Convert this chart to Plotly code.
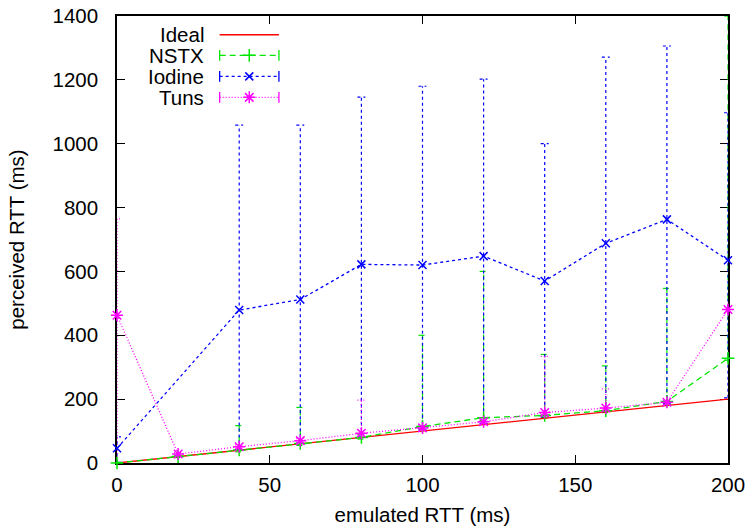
import plotly.graph_objects as go

# ---------------- data ----------------
ideal_x = [0, 200]
ideal_y = [0, 200]

rtt = [0, 20, 40, 60, 80, 100, 120, 140, 160, 180, 200]

nstx = [0, 20, 41, 61, 80, 114, 142, 149, 164, 193, 328]
nstx_hi = [3, 24, 117, 174, 90, 400, 600, 340, 304, 547, 1400]
nstx_lo = [0, 17, 35, 55, 75, 106, 133, 143, 158, 187, 322]

iodine_x = [0, 40, 60, 80, 100, 120, 140, 160, 180, 200]
iodine = [46, 479, 512, 622, 620, 648, 570, 688, 763, 635]
iodine_hi = [82, 1058, 1058, 1146, 1180, 1202, 1000, 1271, 1306, 1097]
iodine_lo = [2, 42, 62, 82, 104, 124, 144, 163, 185, 204]

tuns = [463, 28, 51, 70, 93, 110, 129, 158, 172, 190, 481]
tuns_hi = [765, 33, 57, 76, 197, 116, 135, 334, 232, 196, 490]
tuns_lo = [0, 24, 46, 65, 88, 105, 124, 152, 166, 184, 470]

names = ["Ideal", "NSTX", "Iodine", "Tuns"]

# ---------------- styles ----------------
FONT = "Liberation Sans, Arial, Helvetica, sans-serif"
FS = 20.5
RED = "#ff0000"
GREEN = "#00e600"
BLUE = "#0000ff"
MAG = "#ff00ff"
CAP = 1.3  # half cap width in data units


def err_segments(xs, lo, hi):
    sx, sy = [], []
    for x, l, h in zip(xs, lo, hi):
        sx += [x, x, None, x - CAP, x + CAP, None, x - CAP, x + CAP, None]
        sy += [l, h, None, l, l, None, h, h, None]
    return sx, sy


fig = go.Figure()

series = [
    ("NSTX", rtt, nstx, nstx_lo, nstx_hi, GREEN, "6px,4px", "cross-thin-open", 9),
    ("Iodine", iodine_x, iodine, iodine_lo, iodine_hi, BLUE, "3px,3px", "x-thin-open", 8),
    ("Tuns", rtt, tuns, tuns_lo, tuns_hi, MAG, "1px,2px", "asterisk-open", 10),
]

# error bars first
for name, xs, ys, lo, hi, col, dash, sym, msz in series:
    ex, ey = err_segments(xs, lo, hi)
    fig.add_trace(go.Scatter(x=ex, y=ey, mode="lines", showlegend=False,
                             line=dict(color=col, width=1.2, dash=dash),
                             hoverinfo="skip", cliponaxis=False))

fig.add_trace(go.Scatter(x=ideal_x, y=ideal_y, mode="lines", name="Ideal",
                         line=dict(color=RED, width=1.3), showlegend=False))

for name, xs, ys, lo, hi, col, dash, sym, msz in series:
    fig.add_trace(go.Scatter(x=xs, y=ys, mode="lines+markers", name=name,
                             showlegend=False, cliponaxis=False,
                             line=dict(color=col, width=1.3, dash=dash),
                             marker=dict(symbol=sym, size=msz, color=col,
                                         line=dict(color=col, width=1.5))))

# ---------------- custom gnuplot-like key (text left of sample) ----------------
key_rows = [0.958, 0.912, 0.865, 0.818]
key_text_x = 0.146
key_x0, key_x1 = 0.168, 0.265
styles = [(RED, "solid", None, 0, False),
          (GREEN, "6px,4px", "cross-thin-open", 9, True),
          (BLUE, "3px,3px", "x-thin-open", 8, True),
          (MAG, "1px,2px", "asterisk-open", 10, True)]
for name, yy, (col, dash, sym, msz, caps) in zip(names, key_rows, styles):
    fig.add_annotation(text=name, xref="paper", yref="paper", x=key_text_x, y=yy,
                       xanchor="right", yanchor="middle", showarrow=False,
                       font=dict(family=FONT, size=FS, color="black"))
    fig.add_trace(go.Scatter(x=[key_x0, key_x1], y=[yy, yy], xaxis="x2", yaxis="y2",
                             mode="lines", line=dict(color=col, width=1.3, dash=dash),
                             showlegend=False, hoverinfo="skip"))
    if caps:
        h = 0.012
        fig.add_trace(go.Scatter(x=[key_x0, key_x0, None, key_x1, key_x1],
                                 y=[yy - h, yy + h, None, yy - h, yy + h],
                                 xaxis="x2", yaxis="y2", mode="lines",
                                 line=dict(color=col, width=1.3),
                                 showlegend=False, hoverinfo="skip"))
        fig.add_trace(go.Scatter(x=[(key_x0 + key_x1) / 2], y=[yy], xaxis="x2", yaxis="y2",
                                 mode="markers",
                                 marker=dict(symbol=sym, size=msz, color=col,
                                             line=dict(color=col, width=1.5)),
                                 showlegend=False, hoverinfo="skip"))

axis_common = dict(showgrid=False, zeroline=False, showline=True, linecolor="black",
                   linewidth=1.5, mirror="ticks", ticks="inside", ticklen=8,
                   tickwidth=1.2, tickcolor="black", automargin=False,
                   layer="below traces",
                   tickfont=dict(family=FONT, size=FS, color="black"))

fig.update_layout(
    width=751, height=528,
    margin=dict(l=117, r=23, t=16, b=65),
    paper_bgcolor="white", plot_bgcolor="white",
    showlegend=False,
    xaxis=dict(range=[0, 200], tickvals=[0, 50, 100, 150, 200],
               title=dict(text="emulated RTT (ms)", font=dict(family=FONT, size=FS, color="black"),
                          standoff=12),
               ticklabelstandoff=3, **axis_common),
    yaxis=dict(range=[0, 1400], tickvals=[0, 200, 400, 600, 800, 1000, 1200, 1400],
               title=dict(text="perceived RTT (ms)", font=dict(family=FONT, size=FS, color="black"),
                          standoff=22),
               ticklabelstandoff=13, **axis_common),
    xaxis2=dict(range=[0, 1], domain=[0, 1], overlaying="x", visible=False, fixedrange=True),
    yaxis2=dict(range=[0, 1], domain=[0, 1], overlaying="y", visible=False, fixedrange=True),
)

fig.write_html("out.html", config={"displayModeBar": False},
               post_script="document.body.style.margin='0';document.body.style.overflow='hidden';")
